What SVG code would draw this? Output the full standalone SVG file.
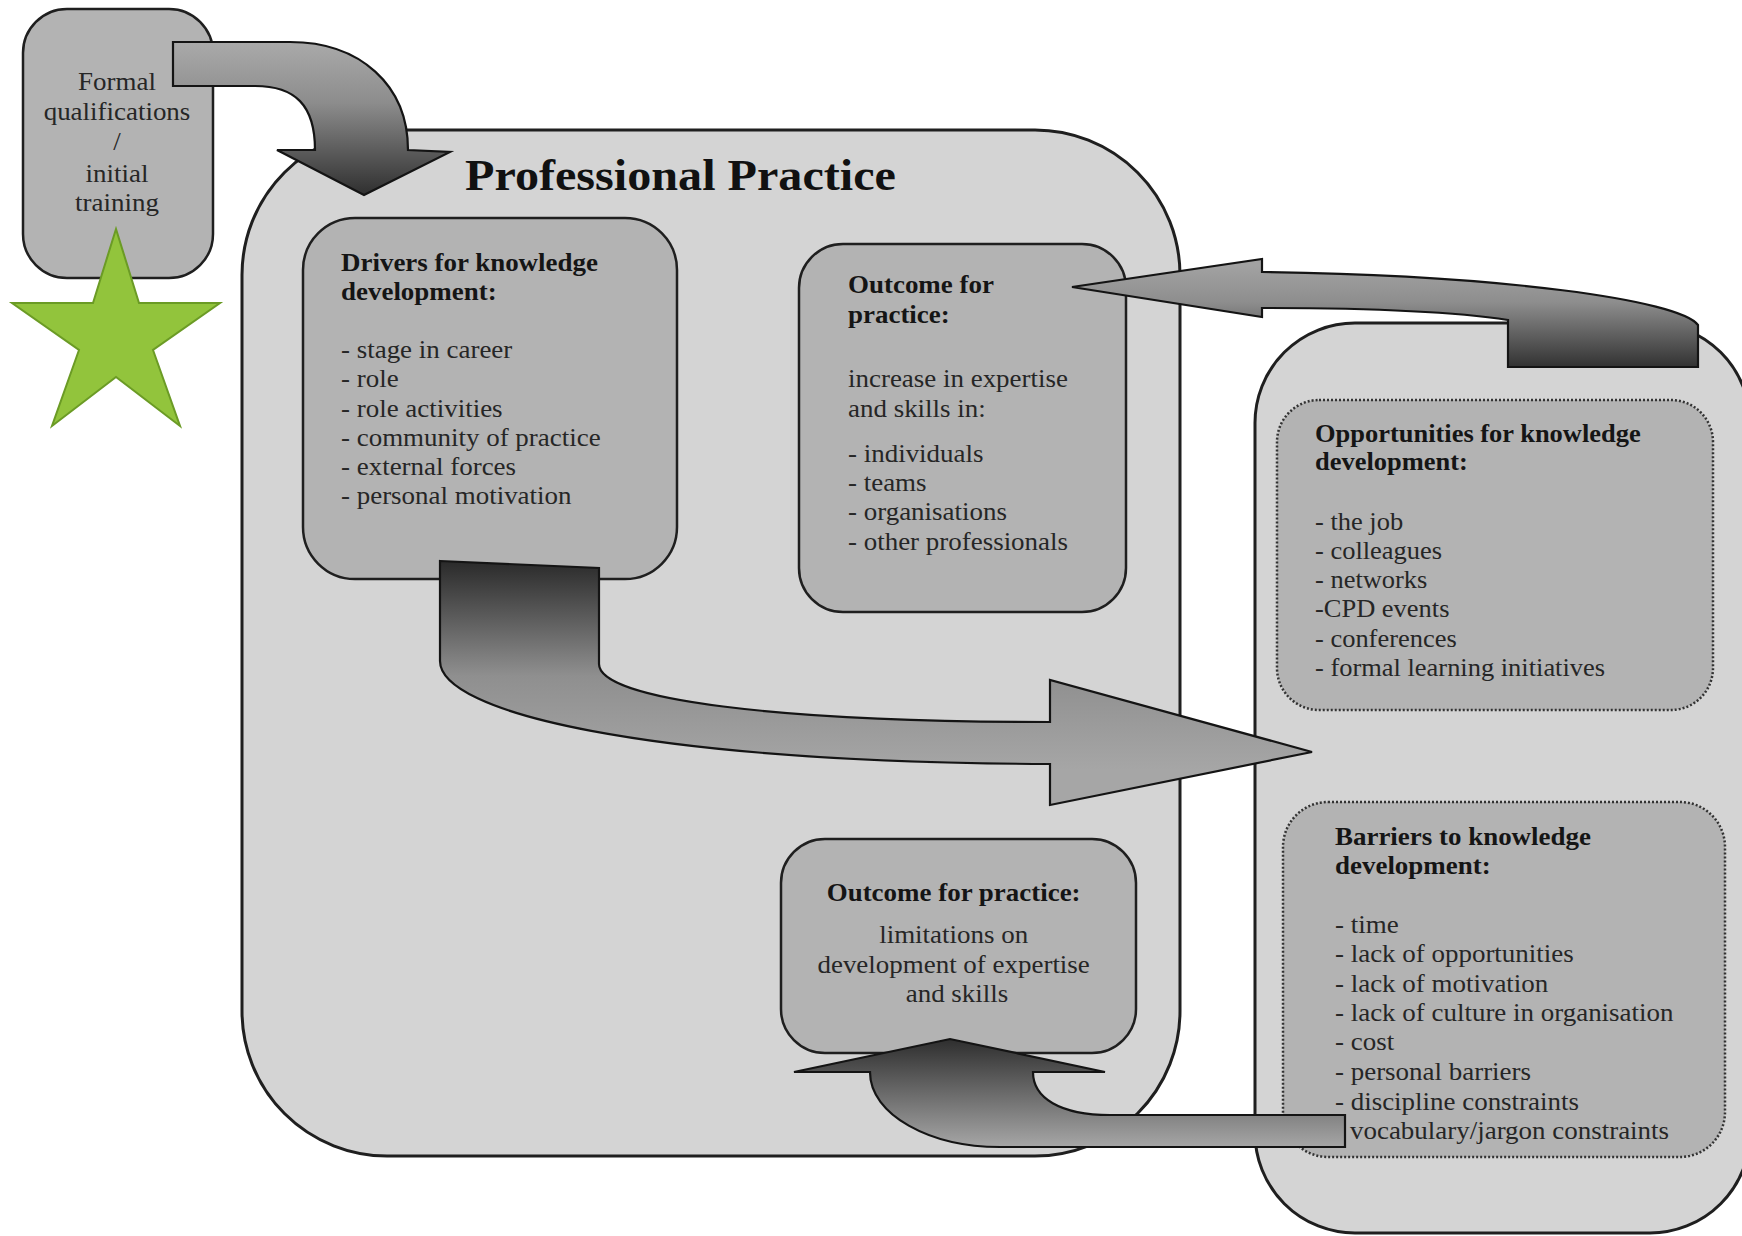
<svg xmlns="http://www.w3.org/2000/svg" width="1742" height="1236" viewBox="0 0 1742 1236">
<style>
.cont{fill:#d4d4d4;stroke:#1f1f1f;stroke-width:3}
.box{fill:#b3b3b3;stroke:#1f1f1f;stroke-width:2.5}
.dot{fill:#b3b3b3;stroke:#333;stroke-width:2.5;stroke-dasharray:2 2}
.t{font-family:"Liberation Serif","Times New Roman",serif;font-size:24.5px;fill:#262626}
.b{font-weight:bold;fill:#151515}
.title{font-family:"Liberation Serif","Times New Roman",serif;font-size:45px;font-weight:bold;fill:#111}
.arrow{stroke:#141414;stroke-width:2.2;stroke-linejoin:miter}
</style>
<defs>
<linearGradient id="gFormal" gradientUnits="userSpaceOnUse" x1="0" y1="42" x2="0" y2="195">
<stop offset="0" stop-color="#aaaaaa"/><stop offset="0.4" stop-color="#8c8c8c"/><stop offset="1" stop-color="#2f2f2f"/>
</linearGradient>
<linearGradient id="gDrivers" gradientUnits="userSpaceOnUse" x1="0" y1="561" x2="0" y2="770">
<stop offset="0" stop-color="#2a2a2a"/><stop offset="0.55" stop-color="#8f8f8f"/><stop offset="1" stop-color="#a6a6a6"/>
</linearGradient>
<linearGradient id="gOpp" gradientUnits="userSpaceOnUse" x1="0" y1="265" x2="0" y2="370">
<stop offset="0" stop-color="#a2a2a2"/><stop offset="0.35" stop-color="#8e8e8e"/><stop offset="1" stop-color="#2e2e2e"/>
</linearGradient>
<linearGradient id="gBar" gradientUnits="userSpaceOnUse" x1="0" y1="1039" x2="0" y2="1147">
<stop offset="0" stop-color="#2e2e2e"/><stop offset="1" stop-color="#a6a6a6"/>
</linearGradient>
</defs>
<rect width="1742" height="1236" fill="#ffffff"/>

<g id="professional-practice">
<rect class="cont" x="242" y="130" width="938" height="1026" rx="145" ry="145"/>
<g transform="translate(465 0) scale(1.07 1)"><text class="title" x="0" y="190">Professional Practice</text></g>
</g>

<g id="knowledge-context">
<rect class="cont" x="1255" y="323" width="495" height="910" rx="100" ry="100"/>
</g>

<g id="formal-qualifications">
<rect class="box" x="23" y="9" width="190" height="269" rx="44" ry="44"/>
<g transform="translate(117 0) scale(1.1 1)"><text class="t" text-anchor="middle">
<tspan x="0" y="90">Formal</tspan><tspan x="0" y="120">qualifications</tspan><tspan x="0" y="150">/</tspan><tspan x="0" y="182">initial</tspan><tspan x="0" y="211">training</tspan>
</text></g>
</g>

<g id="star">
<polygon points="116,229 139,303 220,303 153,350 180,426 116,377 52,426 79,350 12,303 93,303" fill="#92c43c" stroke="#6b9b25" stroke-width="2"/>
</g>

<g id="drivers">
<rect class="box" x="303" y="218" width="374" height="361" rx="52" ry="52"/>
<g transform="translate(341 0) scale(1.1 1)"><text class="t">
<tspan class="b" x="0" y="271">Drivers for knowledge</tspan>
<tspan class="b" x="0" y="300">development:</tspan>
<tspan x="0" y="358">- stage in career</tspan>
<tspan x="0" y="387">- role</tspan>
<tspan x="0" y="417">- role activities</tspan>
<tspan x="0" y="446">- community of practice</tspan>
<tspan x="0" y="475">- external forces</tspan>
<tspan x="0" y="504">- personal motivation</tspan>
</text></g>
</g>

<g id="outcome-increase">
<rect class="box" x="799" y="244" width="327" height="368" rx="44" ry="44"/>
<g transform="translate(848 0) scale(1.1 1)"><text class="t">
<tspan class="b" x="0" y="293">Outcome for</tspan>
<tspan class="b" x="0" y="323">practice:</tspan>
<tspan x="0" y="387">increase in expertise</tspan>
<tspan x="0" y="417">and skills in:</tspan>
<tspan x="0" y="462">- individuals</tspan>
<tspan x="0" y="491">- teams</tspan>
<tspan x="0" y="520">- organisations</tspan>
<tspan x="0" y="550">- other professionals</tspan>
</text></g>
</g>

<g id="opportunities">
<rect class="dot" x="1277" y="400" width="436" height="310" rx="42" ry="42"/>
<g transform="translate(1315 0) scale(1.08 1)"><text class="t">
<tspan class="b" x="0" y="442">Opportunities for knowledge</tspan>
<tspan class="b" x="0" y="470">development:</tspan>
<tspan x="0" y="530">- the job</tspan>
<tspan x="0" y="559">- colleagues</tspan>
<tspan x="0" y="588">- networks</tspan>
<tspan x="0" y="617">-CPD events</tspan>
<tspan x="0" y="647">- conferences</tspan>
<tspan x="0" y="676">- formal learning initiatives</tspan>
</text></g>
</g>

<g id="barriers">
<rect class="dot" x="1283" y="802" width="442" height="355" rx="45" ry="45"/>
<g transform="translate(1335 0) scale(1.1 1)"><text class="t">
<tspan class="b" x="0" y="845">Barriers to knowledge</tspan>
<tspan class="b" x="0" y="874">development:</tspan>
<tspan x="0" y="933">- time</tspan>
<tspan x="0" y="962">- lack of opportunities</tspan>
<tspan x="0" y="992">- lack of motivation</tspan>
<tspan x="0" y="1021">- lack of culture in organisation</tspan>
<tspan x="0" y="1050">- cost</tspan>
<tspan x="0" y="1080">- personal barriers</tspan>
<tspan x="0" y="1110">- discipline constraints</tspan>
</text></g>
<g transform="translate(1350 0) scale(1.1 1)"><text class="t" x="0" y="1139">vocabulary/jargon constraints</text></g>
</g>

<g id="outcome-limitations">
<rect class="box" x="781" y="839" width="355" height="214" rx="44" ry="44"/>
<g transform="translate(957 0) scale(1.1 1)"><text class="t" text-anchor="middle">
<tspan class="b" x="0" y="901">Outcome for practice:</tspan>
<tspan x="0" y="943">limitations on</tspan>
<tspan x="0" y="973">development of expertise</tspan>
<tspan x="0" y="1002">and skills</tspan>
</text></g>
</g>

<g id="connectors">
<path id="arrow-formal-to-practice" class="arrow" fill="url(#gFormal)" d="M173,42 L290,42 C360,42 408,85 408,150 L450,152 L364,195 L277,150 L315,150 C315,105 295,86 255,86 L173,86 Z"/>
<path id="arrow-drivers-to-context" class="arrow" fill="url(#gDrivers)" d="M440,561 L599,568 L599,664 C599,700 780,722 1050,722 L1050,680 L1312,752 L1050,805 L1050,764 C640,762 440,712 440,661 Z"/>
<path id="arrow-opportunities-to-outcome" class="arrow" fill="url(#gOpp)" d="M1698,367 L1508,367 L1508,320 C1450,311 1350,308 1262,308 L1262,317 L1072,287 L1262,259 L1262,272 C1500,275 1680,300 1698,325 Z"/>
<path id="arrow-barriers-to-outcome" class="arrow" fill="url(#gBar)" d="M1345,1115 L1345,1147 L1000,1147 C930,1147 870,1115 870,1072 L794,1072 L950,1039 L1105,1072 L1033,1072 C1033,1098 1060,1115 1110,1115 Z"/>
</g>
</svg>
